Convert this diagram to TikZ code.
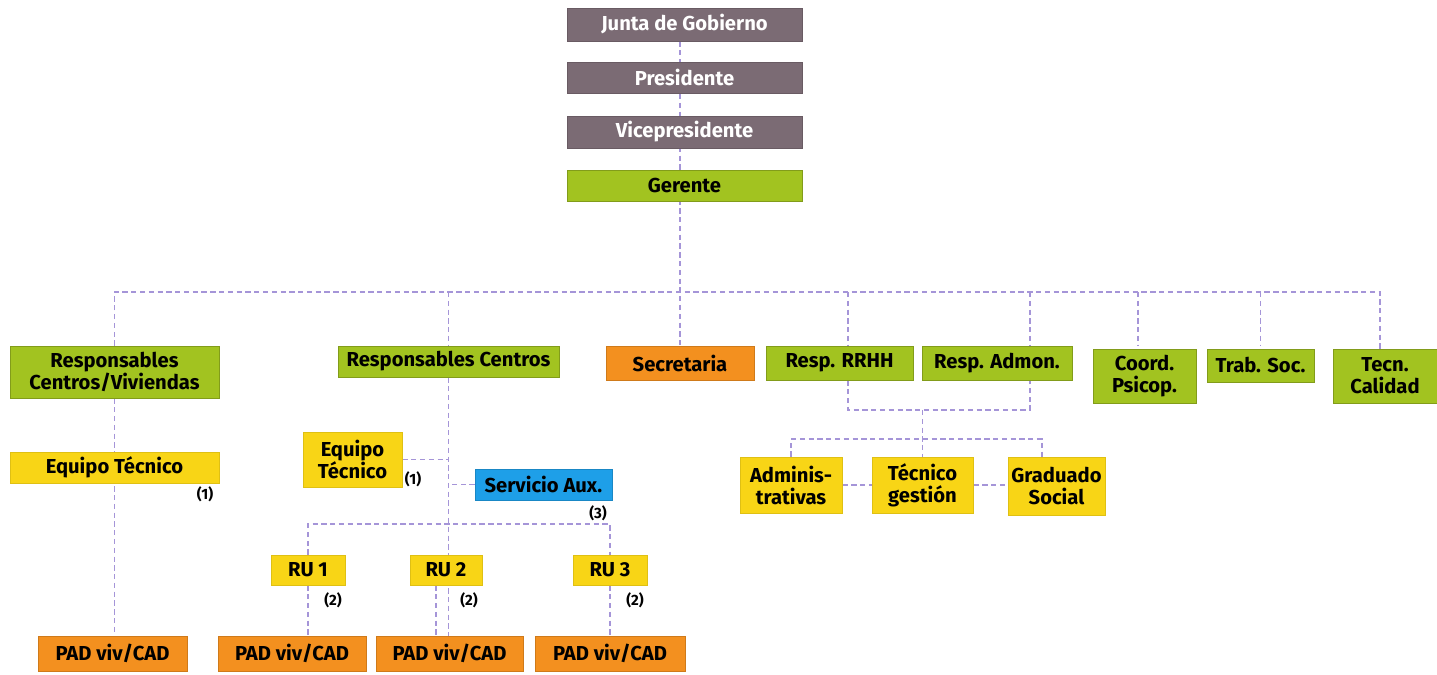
\documentclass[tikz,border=0pt]{standalone}
\usepackage{fontspec}
\setmainfont{Fira Sans}
\usetikzlibrary{positioning, backgrounds}
\definecolor{cgris}{HTML}{7B6B74}
\definecolor{cverde}{HTML}{A2C320}
\definecolor{cnaranja}{HTML}{F3901F}
\definecolor{camarillo}{HTML}{F8D516}
\definecolor{cazul}{HTML}{1E9FE8}
\definecolor{clinea}{HTML}{A595D8}
\tikzset{
    caja/.style = {font=\bfseries\fontsize{11.5}{12.5}\selectfont, align=center, inner sep=0pt, line width=0.5pt},
    gris/.style = {caja, fill=cgris, draw=cgris!85!black, text=white},
    verde/.style = {caja, fill=cverde, draw=cverde!80!black},
    naranja/.style = {caja, fill=cnaranja, draw=cnaranja!85!black},
    amarillo/.style = {caja, fill=camarillo, draw=camarillo!90!black},
    azul/.style = {caja, fill=cazul, draw=cazul!85!black},
    tam/.style 2 args = {minimum width=#1*0.02cm, minimum height=#2*0.02cm},
    linea/.style = {draw=clinea, line width=0.6pt, dash pattern=on 3pt off 2pt},
    nota/.style = {font=\bfseries\fontsize{8.5}{9}\selectfont, inner sep=0pt}
}

\begin{document}
\begin{tikzpicture}[x = 0.02cm, y = -0.02cm]
    \useasboundingbox (0,0) rectangle (1437,675);
    % Direccion
    \node[gris, tam={235}{33}] (junta) at (684.5,24.5){Junta de Gobierno};
    \node[gris, tam={235}{31}] (pres) at (684.5,77.5){Presidente};
    \node[gris, tam={235}{32}] (vice) at (684.5,132){Vicepresidente};
    \node[verde, tam={235}{31}] (gerente) at (684.5,185.5){Gerente};
    % Segundo nivel
    \node[verde, tam={209}{52}] (respcv) at (114.5,372){Responsables\\Centros/Viviendas};
    \node[verde, tam={221}{31}] (respc) at (448.5,361.5){Responsables Centros};
    \node[naranja, tam={148}{34}] (secre) at (680,363){Secretaria};
    \node[verde, tam={147}{34}] (rrhh) at (839.5,363){Resp. RRHH};
    \node[verde, tam={150}{34}] (admon) at (997,363){Resp. Admon.};
    \node[verde, tam={103}{54}] (coord) at (1144.5,376){Coord.\\Psicop.};
    \node[verde, tam={107}{33}] (trab) at (1260.5,365.5){Trab. Soc.};
    \node[verde, tam={104}{54}] (tecn) at (1385,376){Tecn.\\Calidad};
    % Rama Centros/Viviendas
    \node[amarillo, tam={209}{31}] (equipoA) at (114.5,467.5){Equipo Técnico};
    \node[nota] (notaA) at (205,494){(1)};
    \node[naranja, tam={149}{35}] (padA) at (112.5,653.5){PAD viv/CAD};
    % Rama Centros
    \node[amarillo, tam={99}{55}] (equipoB) at (352.5,459.5){Equipo\\Técnico};
    \node[nota] (notaB) at (413,479){(1)};
    \node[azul, tam={137}{31}] (servicio) at (543.5,484.5){Servicio Aux.};
    \node[nota] (notaC) at (598,513){(3)};
    \node[amarillo, tam={74}{30}] (ruA) at (308,570){RU 1};
    \node[amarillo, tam={72}{30}] (ruB) at (446,570){RU 2};
    \node[amarillo, tam={74}{30}] (ruC) at (610,570){RU 3};
    \node[nota] (notaD) at (333,600){(2)};
    \node[nota] (notaE) at (469,600){(2)};
    \node[nota] (notaF) at (635,600){(2)};
    \node[naranja, tam={148}{35}] (padB) at (292,653.5){PAD viv/CAD};
    \node[naranja, tam={147}{35}] (padC) at (449.5,653.5){PAD viv/CAD};
    \node[naranja, tam={150}{35}] (padD) at (610,653.5){PAD viv/CAD};
    % Rama administracion
    \node[amarillo, tam={102}{56}] (adm) at (791,485){Adminis-\\trativas};
    \node[amarillo, tam={101}{56}] (tecg) at (922.5,485){Técnico\\gestión};
    \node[amarillo, tam={97}{58}] (grad) at (1056.5,486){Graduado\\Social};
    % Puntos de las lineas
    \coordinate (barra) at (0,292);
    \coordinate (barraRU) at (0,524);
    \coordinate (barraR) at (0,410);
    \coordinate (barraS) at (0,439);
    \coordinate (subeRRHH) at ([xshift=0.17cm]rrhh.north);
    \coordinate (bajaRRHH) at ([xshift=0.17cm]rrhh.south);
    \coordinate (subeAdmon) at ([xshift=0.66cm]admon.north);
    \coordinate (bajaAdmon) at ([xshift=0.66cm]admon.south);
    \coordinate (subeCoord) at ([xshift=-0.13cm]coord.north);
    \coordinate (subeTecn) at ([xshift=-0.1cm]tecn.north);
    \coordinate (subeGrad) at ([xshift=-0.29cm]grad.north);
    \coordinate (bajaRU) at ([xshift=-0.2cm]ruB.south);
    \begin{scope}[on background layer]
        % Cadena de mando
        \draw[linea] (junta.south -| secre) -- (secre.north);
        % Barra principal
        \draw[linea] (respcv.north) -- (respcv.north |- barra) -- (subeTecn |- barra) -- (subeTecn);
        \foreach \n in {respc, subeRRHH, subeAdmon, subeCoord, trab}
            \draw[linea] (\n |- barra) -- (\n |- secre.north);
        % Centros/Viviendas
        \draw[linea] (respcv.south) -- (respcv.south |- padA.north);
        % Centros
        \draw[linea] (respc.south) -- (respc.south |- padC.north);
        \draw[linea] (equipoB.east) -- (equipoB.east -| respc.south);
        \draw[linea] (servicio.west) -- (servicio.west -| respc.south);
        \draw[linea] (ruA.north) -- (ruA.north |- barraRU) -- (ruC.north |- barraRU) -- (ruC.north);
        \draw[linea] (ruA.south) -- (ruA.south |- padB.north);
        \draw[linea] (ruC.south) -- (ruC.south |- padD.north);
        \draw[linea] (bajaRU) -- (bajaRU |- padC.north);
        % Administracion
        \draw[linea] (bajaRRHH) -- (bajaRRHH |- barraR) -- (bajaAdmon |- barraR) -- (bajaAdmon);
        \draw[linea] (tecg.north |- barraR) -- (tecg.north);
        \draw[linea] (adm.north) -- (adm.north |- barraS) -- (subeGrad |- barraS) -- (subeGrad);
        \draw[linea] (adm.east) -- (adm.east -| tecg.west);
        \draw[linea] (tecg.east) -- (tecg.east -| grad.west);
    \end{scope}
\end{tikzpicture}
\end{document}
